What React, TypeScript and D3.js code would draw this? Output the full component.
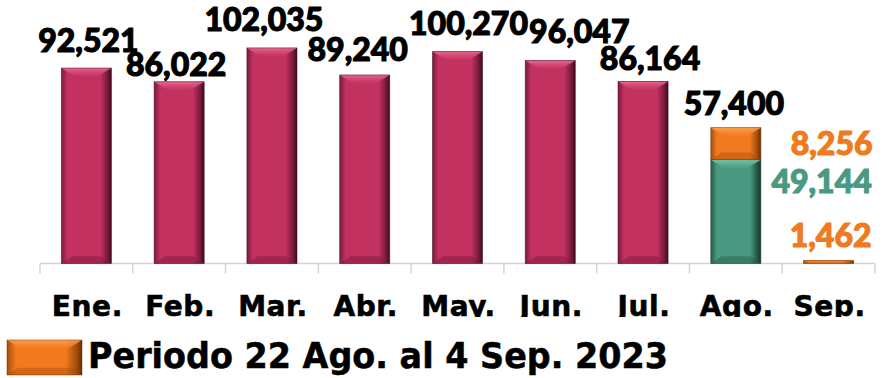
import React from 'react';
import * as d3 from 'd3';

const months = ['Ene.', 'Feb.', 'Mar.', 'Abr.', 'May.', 'Jun.', 'Jul.', 'Ago.', 'Sep.'];
const monthlyTotals = [92521, 86022, 102035, 89240, 100270, 96047, 86164, 57400];
const agoBase = 49144;
const agoPeriodo = 8256;
const agoPeriodoDrawn = 15150; // orange segment height as drawn in the reference
const sepPeriodo = 1462;
const legendLabel = 'Periodo 22 Ago. al 4 Sep. 2023';

const W = 886;
const H = 378;
const fmt = d3.format(',');

type Pal = { id: string; main: string; light: string; dark: string; darker: string };
const crimson: Pal = { id: 'cr', main: '#C2315F', light: '#EE6C95', dark: '#7A1A3C', darker: '#3E0A1E' };
const orange: Pal = { id: 'or', main: '#F27A1E', light: '#FFA552', dark: '#A84E0C', darker: '#6A2E05' };
const teal: Pal = { id: 'te', main: '#4A9A82', light: '#80CBB3', dark: '#24594A', darker: '#143A30' };

function Defs({ p }: { p: Pal }) {
  return (
    <>
      <linearGradient id={`h-${p.id}`} x1="0" x2="1" y1="0" y2="0">
        <stop offset="0" stopColor={p.dark} />
        <stop offset="0.12" stopColor={p.main} />
        <stop offset="0.78" stopColor={p.main} />
        <stop offset="0.92" stopColor={p.dark} />
        <stop offset="1" stopColor={p.darker} />
      </linearGradient>
      <linearGradient id={`t-${p.id}`} x1="0" x2="0" y1="0" y2="1">
        <stop offset="0" stopColor={p.light} />
        <stop offset="1" stopColor={p.main} stopOpacity="0.6" />
      </linearGradient>
    </>
  );
}

function Bevel({ x, y, w, h, p }: { x: number; y: number; w: number; h: number; p: Pal }) {
  const b = Math.min(9, h / 3);
  const top = `${x},${y} ${x + w},${y} ${x + w - b * 1.6},${y + b} ${x + b * 1.6},${y + b}`;
  const bot = `${x},${y + h} ${x + w},${y + h} ${x + w - b * 1.2},${y + h - b * 0.8} ${x + b * 1.2},${y + h - b * 0.8}`;
  return (
    <g>
      <rect x={x} y={y} width={w} height={h} fill={`url(#h-${p.id})`} />
      <polygon points={top} fill={`url(#t-${p.id})`} opacity={0.9} />
      <polygon points={bot} fill={p.dark} opacity={0.45} />
      <rect x={x} y={y} width={w} height={h} fill="none" stroke={p.darker} strokeOpacity={0.6} strokeWidth={0.8} />
    </g>
  );
}

export default function App() {
  const x = d3.scaleBand<string>().domain(months).range([40, 875]).paddingInner(0.46).paddingOuter(0.23);
  const y = d3.scaleLinear().domain([0, 124700]).range([263.5, 0]);
  const bw = x.bandwidth();
  const step = x.step();
  const cx = (m: string) => (x(m) as number) + bw / 2;

  // small per-label nudges (label placement in the original was adjusted by hand)
  const nudgeX = [2, -3, -8, -7, 11, 29, 7, -2];
  const nudgeY = [-16, -6, -17, -14, -17, -18, -11, -13];

  const valueFont = { fontFamily: 'Lato, "Open Sans", sans-serif', fontWeight: 900, fontSize: 32, strokeWidth: 1.1, paintOrder: 'stroke' } as const;
  const base = y(0);
  const agoTop = y(agoBase + agoPeriodoDrawn);
  const tealTop = y(agoBase);
  const sepTop = y(sepPeriodo);

  return (
    <svg width={W} height={H} style={{ position: 'absolute', left: 0, top: 0, background: '#fff' }}>
      <defs>
        <Defs p={crimson} />
        <Defs p={orange} />
        <Defs p={teal} />
        <clipPath id="catclip">
          <rect x={0} y={270} width={W} height={47} />
        </clipPath>
      </defs>

      {/* axis */}
      <line x1={40} x2={875} y1={base} y2={base} stroke="#D4D4D4" strokeWidth={1.5} />
      {d3.range(months.length + 1).map((k) => (
        <line key={k} x1={40 + k * step} x2={40 + k * step} y1={base} y2={base + 10} stroke="#D4D4D4" strokeWidth={1.5} />
      ))}

      {/* monthly bars */}
      {monthlyTotals.slice(0, 7).map((v, i) => (
        <Bevel key={i} x={x(months[i]) as number} y={y(v)} w={bw} h={base - y(v)} p={crimson} />
      ))}
      <Bevel x={x('Ago.') as number} y={tealTop} w={bw} h={base - tealTop} p={teal} />
      <Bevel x={x('Ago.') as number} y={agoTop} w={bw} h={tealTop - agoTop} p={orange} />
      <Bevel x={x('Sep.') as number} y={sepTop} w={bw} h={base - sepTop} p={orange} />

      {/* value labels */}
      {monthlyTotals.map((v, i) => {
        const top = i < 7 ? y(v) : agoTop;
        return (
          <text key={i} x={cx(months[i]) + nudgeX[i]} y={top + nudgeY[i]} textAnchor="middle" fill="#000" stroke="#000" {...valueFont}>
            {fmt(v)}
          </text>
        );
      })}
      <text x={cx('Sep.') + 3} y={(agoTop + tealTop) / 2 + 11} textAnchor="middle" fill="#F07A22" stroke="#F07A22" {...valueFont}>
        {fmt(agoPeriodo)}
      </text>
      <text x={cx('Sep.') - 7} y={tealTop + 33} textAnchor="middle" fill="#4A9A82" stroke="#4A9A82" {...valueFont}>
        {fmt(agoBase)}
      </text>
      <text x={cx('Sep.') + 2} y={sepTop - 13} textAnchor="middle" fill="#F07A22" stroke="#F07A22" {...valueFont}>
        {fmt(sepPeriodo)}
      </text>

      {/* category labels */}
      <g clipPath="url(#catclip)">
        {months.map((m) => (
          <text key={m} x={cx(m) + 1} y={316} textAnchor="middle" fill="#000" stroke="#000" strokeWidth={0.6}
            style={{ fontFamily: '"DejaVu Sans", sans-serif', fontWeight: 700, fontSize: 28, letterSpacing: 0.6 }}>
            {m}
          </text>
        ))}
      </g>

      {/* legend */}
      <Bevel x={7} y={340} w={75} h={35} p={orange} />
      <text x={88} y={368} textLength={580} lengthAdjust="spacingAndGlyphs" fill="#000" stroke="#000" strokeWidth={0.5}
        style={{ fontFamily: '"DejaVu Sans", sans-serif', fontWeight: 700, fontSize: 35 }}>
        {legendLabel}
      </text>
    </svg>
  );
}
